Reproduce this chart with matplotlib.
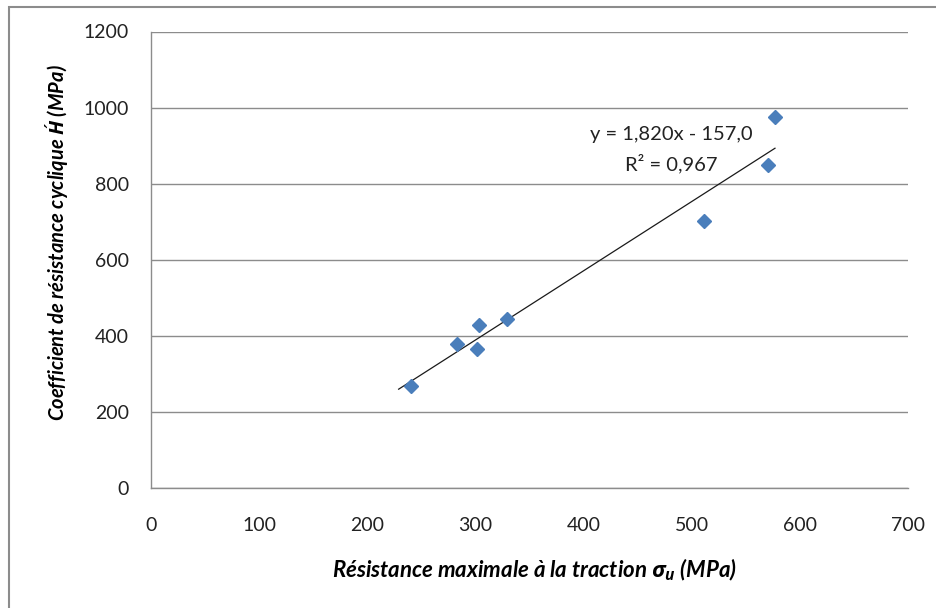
import matplotlib
matplotlib.use("Agg")
import matplotlib.pyplot as plt
from matplotlib.patches import Rectangle

plt.rcParams['font.family'] = ['Lato', 'DejaVu Sans']
plt.rcParams['mathtext.fontset'] = 'custom'
plt.rcParams['mathtext.rm'] = 'Open Sans'
plt.rcParams['mathtext.it'] = 'Open Sans:italic:bold'
plt.rcParams['mathtext.bf'] = 'Open Sans:bold'

# Data
sigma_u = [240, 283, 301, 303, 329, 511, 571, 577]
H_prime = [268, 378, 365, 428, 444, 702, 849, 975]
slope = 1.820
intercept = -157.0
trend_x = [229, 577]
x_ticks = [0, 100, 200, 300, 400, 500, 600, 700]
y_ticks = [0, 200, 400, 600, 800, 1000, 1200]

W, H = 936, 608
fig = plt.figure(figsize=(W / 100, H / 100), dpi=100)
fig.patch.set_facecolor('white')

# outer chart frame
fig.patches.append(Rectangle((9 / W, -0.05), 1.2, 1 - 6.5 / H + 0.05,
                             transform=fig.transFigure, fill=False,
                             edgecolor='#8c8c8c', linewidth=1.5))

ax = fig.add_axes([151 / W, 1 - 488 / H, (908 - 151) / W, (488 - 31.5) / H])
ax.set_xlim(0, 700)
ax.set_ylim(0, 1200)
ax.set_xticks(x_ticks)
ax.set_yticks(y_ticks)
ax.tick_params(length=0, labelsize=14, colors='#222222')
ax.tick_params(axis='x', pad=21)
ax.tick_params(axis='y', pad=16)

for s in ['top', 'right']:
    ax.spines[s].set_visible(False)
for s in ['left', 'bottom']:
    ax.spines[s].set_color('#8c8c8c')
    ax.spines[s].set_linewidth(1.0)

ax.grid(axis='y', color='#8c8c8c', linewidth=1.0)
ax.set_axisbelow(True)

ty = [slope * x + intercept for x in trend_x]
ax.plot(trend_x, ty, color='#1a1a1a', linewidth=0.9, zorder=2)
ax.plot(sigma_u, H_prime, linestyle='none', marker='D', markersize=7.6,
        color='#4a7ebb', markeredgecolor='#4a7ebb', zorder=3)

ax.text(481, 928, 'y = 1,820x - 157,0', ha='center', va='center', fontsize=14.5, color='#222222')
ax.text(481, 854, 'R² = 0,967', ha='center', va='center', fontsize=14.5, color='#222222')

fig.text(534 / W, 1 - 570 / H, r'Résistance maximale à la traction $\sigma_u$ (MPa)',
         ha='center', va='center', fontsize=16, fontstyle='italic', fontweight='bold')
fig.text(57 / W, 1 - 243 / H, r'Coefficient de résistance cyclique $\acute{H}$ (MPa)',
         ha='center', va='center', rotation=90, fontsize=14.5, fontstyle='italic', fontweight='bold')

fig.savefig('out.png', dpi=100)
